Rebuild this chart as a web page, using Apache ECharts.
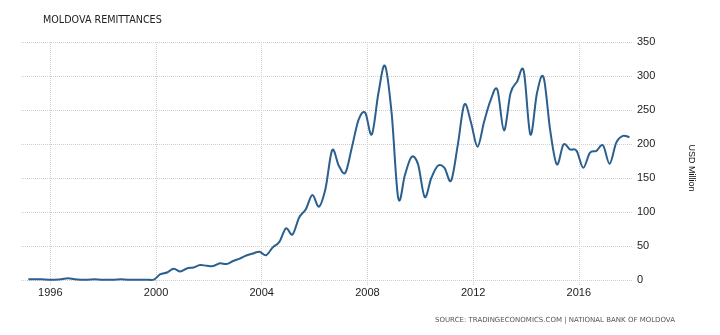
<!DOCTYPE html>
<html>
<head>
<meta charset="utf-8">
<script src="https://cdn.jsdelivr.net/npm/echarts@6/dist/echarts.min.js"></script>
<style>
  html, body { margin: 0; padding: 0; background: #fff; }
  #chart { width: 720px; height: 335px; }
</style>
</head>
<body>
<div id="chart"></div>
<script>
// Moldova remittances, quarterly, USD million (Q1..Q4 per year)
const titleText = 'MOLDOVA REMITTANCES';
const sourceText = 'SOURCE: TRADINGECONOMICS.COM | NATIONAL BANK OF MOLDOVA';
const unitName = 'USD Million';

const firstYear = 1995;
const quarterEndMonths = [3, 6, 9, 12];

const values1995to1999 = [
  1, 1, 1, 0.5,
  0.5, 1, 2.5, 1,
  0.5, 0.5, 1, 0.5,
  0.5, 0.5, 1, 0.5,
  0.5, 0.5, 0.5, 0.5
];
const values2000to2004 = [
  8.5, 11, 16.5, 12.5,
  17, 18.5, 22, 21,
  20.5, 24.5, 23.5, 28,
  31.5, 36, 39, 41.5,
  36.5, 48, 56, 76
];
const values2005to2009 = [
  67, 92, 104, 125,
  108, 135, 191, 168,
  158, 196, 236, 246,
  214, 275, 315, 245,
  120, 154, 181, 170
];
const values2010to2014 = [
  122, 150, 168, 165,
  146, 198, 258, 232,
  196, 233, 265, 280,
  220, 275, 292, 307,
  214, 275, 298, 220
];
const values2015to2017 = [
  170, 199, 192, 190,
  165, 187, 190, 198,
  171, 202, 212, 210
];

const values = [].concat(values1995to1999, values2000to2004, values2005to2009,
                         values2010to2014, values2015to2017);

// each observation sits at its quarter-end month, expressed as a decimal year
const points = values.map((v, i) => {
  const year = firstYear + Math.floor(i / 4);
  const month = quarterEndMonths[i % 4];
  return [year + (month - 1) / 12, v];
});

const xMin = 1994.89, xMax = 2018.05;
const yearStep = 4;
const yMax = 350, yStep = 50;

const gridColor = '#cfcfcf';
const lineColor = '#2b5f8e';
const labelFont = 'Liberation Sans, Arial, sans-serif';

// Catmull-Rom spline through the projected points, as an SVG path
function splinePath(pts) {
  let d = 'M' + pts[0][0] + ' ' + pts[0][1];
  for (let i = 0; i < pts.length - 1; i++) {
    const p0 = pts[Math.max(i - 1, 0)];
    const p1 = pts[i];
    const p2 = pts[i + 1];
    const p3 = pts[Math.min(i + 2, pts.length - 1)];
    const c1x = p1[0] + (p2[0] - p0[0]) / 6, c1y = p1[1] + (p2[1] - p0[1]) / 6;
    const c2x = p2[0] - (p3[0] - p1[0]) / 6, c2y = p2[1] - (p3[1] - p1[1]) / 6;
    d += ' C' + c1x + ' ' + c1y + ' ' + c2x + ' ' + c2y + ' ' + p2[0] + ' ' + p2[1];
  }
  return d;
}

const chart = echarts.init(document.getElementById('chart'), null, { renderer: 'canvas' });
chart.setOption({
  animation: false,
  backgroundColor: '#fff',
  title: {
    text: titleText,
    left: 38, top: 10,
    textStyle: { fontFamily: 'DejaVu Sans, sans-serif', fontSize: 9.6, fontWeight: 'normal', color: '#222' }
  },
  graphic: [{
    type: 'text',
    right: 45, top: 317,
    style: { text: sourceText, font: '7px DejaVu Sans, sans-serif', fill: '#555' }
  }],
  grid: { left: 21, right: 87, top: 42, bottom: 55, containLabel: false },
  xAxis: {
    type: 'value',
    min: xMin, max: xMax,
    minInterval: yearStep, maxInterval: yearStep,
    axisLine: { show: false },
    axisTick: { show: true, length: 5, lineStyle: { color: gridColor, type: 'dotted' } },
    axisLabel: {
      showMinLabel: false, showMaxLabel: false, margin: 7,
      fontFamily: labelFont, fontSize: 11, color: '#222',
      formatter: v => String(Math.round(v))
    },
    splitLine: { show: true, showMinLine: false, showMaxLine: false,
                 lineStyle: { color: gridColor, type: 'dotted', width: 1 } }
  },
  yAxis: {
    type: 'value',
    position: 'right',
    min: 0, max: yMax, interval: yStep,
    name: unitName,
    nameLocation: 'middle',
    nameRotate: -90,
    nameGap: 54,
    nameTextStyle: { fontFamily: labelFont, fontSize: 9, color: '#111', padding: [0, 0, 0, 14] },
    axisLine: { show: false },
    axisTick: { show: false },
    axisLabel: { margin: 4, fontFamily: labelFont, fontSize: 11, color: '#222' },
    splitLine: { show: true, lineStyle: { color: gridColor, type: 'dotted', width: 1 } }
  },
  series: [{
    type: 'custom',
    data: points,
    encode: { x: 0, y: 1 },
    renderItem: function (params, api) {
      if (params.dataIndex !== 0) return null;
      const projected = points.map(p => api.coord(p));
      return {
        type: 'path',
        shape: { pathData: splinePath(projected) },
        style: { fill: 'none', stroke: lineColor, lineWidth: 2 }
      };
    }
  }]
});
</script>
</body>
</html>
